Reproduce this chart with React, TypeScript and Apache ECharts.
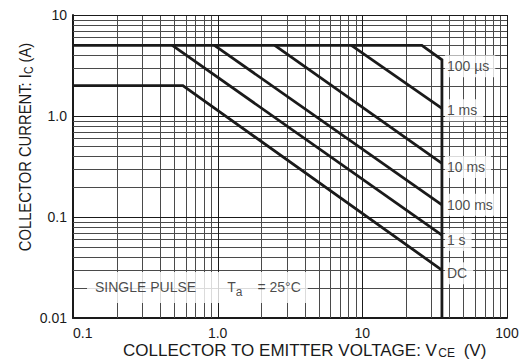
import React, { useEffect, useRef } from "react";
import * as echarts from "echarts";

// Axis ranges (log-log)
const X_MIN = 0.1;
const X_MAX = 100;
const Y_MIN = 0.01;
const Y_MAX = 10;

// Decade tick labels
const xTickText: Record<string, string> = { "0.1": "0.1", "1": "1.0", "10": "10", "100": "100" };
const yTickText: Record<string, string> = { "0.01": "0.01", "0.1": "0.1", "1": "1.0", "10": "10" };

// Grid lines (decades are drawn darker)
const xMajor = [1, 10, 100];
const xMinor = [0.2, 0.3, 0.4, 0.5, 0.6, 0.7, 0.8, 0.9, 2, 3, 4, 5, 6, 7, 8, 9, 20, 30, 40, 50, 60, 70, 80, 90];
const yMajor = [0.1, 1, 10];
const yMinor = [
  0.02, 0.03, 0.04, 0.05, 0.06, 0.07, 0.08, 0.09,
  0.2, 0.3, 0.4, 0.5, 0.6, 0.7, 0.8, 0.9,
  2, 3, 4, 5, 6, 7, 8, 9,
];

// Safe operating area boundaries: [VCE (V), IC (A)]
const envelope100us = [[0.1, 5], [25.8, 5], [35.5, 3.6], [35.5, 0.01]];
const limit1ms = [[8.4, 5], [35.5, 1.19]];
const limit10ms = [[2.48, 5], [35.5, 0.34]];
const limit100ms = [[0.95, 5], [35.5, 0.132]];
const limit1s = [[0.486, 5], [35.5, 0.066]];
const limitDC = [[0.1, 2], [0.575, 2], [35.5, 0.0298]];

// Curve tags placed right of the VCEO limit
const tagNames = ["100 µs", "1 ms", "10 ms", "100 ms", "1 s", "DC"];
const tagVce = 35.5;
const tagIc = [3.1, 1.14, 0.312, 0.132, 0.0593, 0.0277];

// Condition note anchor
const noteVce = 0.125;
const noteIc = 0.02;

const FONT = '"Liberation Sans", Arial, Helvetica, sans-serif';
const INK = "#1a1a1a";

function gridSeries(values: number[][], color: string, vertical: boolean) {
  return {
    type: "custom",
    coordinateSystem: "cartesian2d",
    silent: true,
    z: 1,
    data: values,
    encode: { x: 0, y: 1 },
    renderItem: (_params: any, api: any) => {
      const v = vertical ? api.value(0) : api.value(1);
      const a = vertical ? api.coord([v, Y_MIN]) : api.coord([X_MIN, v]);
      const b = vertical ? api.coord([v, Y_MAX]) : api.coord([X_MAX, v]);
      const x1 = vertical ? Math.round(a[0]) + 0.5 : a[0];
      const x2 = vertical ? Math.round(b[0]) + 0.5 : b[0];
      const y1 = vertical ? a[1] : Math.round(a[1]) + 0.5;
      const y2 = vertical ? b[1] : Math.round(b[1]) + 0.5;
      return {
        type: "line",
        shape: { x1, y1, x2, y2 },
        style: { stroke: color, lineWidth: 1 },
      };
    },
  };
}

function curve(data: number[][]) {
  return {
    type: "line",
    data,
    symbol: "none",
    silent: true,
    z: 3,
    lineStyle: { color: INK, width: 2.8, cap: "butt", join: "miter" },
  };
}

export default function App() {
  const ref = useRef<HTMLDivElement>(null);

  useEffect(() => {
    if (!ref.current) return;
    const chart = echarts.init(ref.current, undefined, { renderer: "svg" });

    const option: any = {
      animation: false,
      backgroundColor: "#ffffff",
      grid: { left: 73, top: 15, width: 434, height: 303, containLabel: false },
      xAxis: {
        type: "log",
        logBase: 10,
        min: X_MIN,
        max: X_MAX,
        axisLine: { show: true, onZero: false, lineStyle: { color: INK, width: 2 } },
        axisTick: { show: false },
        splitLine: { show: false },
        axisLabel: {
          margin: 8,
          color: INK,
          fontSize: 14,
          fontFamily: FONT,
          alignMinLabel: "left",
          formatter: (v: number) => xTickText[String(v)] ?? "",
        },
      },
      yAxis: {
        type: "log",
        logBase: 10,
        min: Y_MIN,
        max: Y_MAX,
        axisLine: { show: true, onZero: false, lineStyle: { color: INK, width: 2 } },
        axisTick: { show: false },
        splitLine: { show: false },
        axisLabel: {
          margin: 6,
          color: INK,
          fontSize: 14,
          fontFamily: FONT,
          formatter: (v: number) => yTickText[String(v)] ?? "",
        },
      },
      graphic: [
        {
          type: "text",
          x: 123,
          y: 350,
          silent: true,
          style: {
            text: "{a|COLLECTOR TO EMITTER VOLTAGE: V}{s|CE}{a| (V)}",
            align: "left",
            verticalAlign: "middle",
            fill: INK,
            rich: {
              a: { fontSize: 17, fontFamily: FONT, fill: INK, lineHeight: 17 },
              s: { fontSize: 12, fontFamily: FONT, fill: INK, lineHeight: 12, verticalAlign: "bottom", padding: [0, 4, 0, 1] },
            },
          },
        },
        {
          type: "text",
          x: 25,
          y: 147,
          rotation: Math.PI / 2,
          scaleX: 0.87,
          silent: true,
          style: {
            text: "{a|COLLECTOR CURRENT: I}{s|C}{a| (A)}",
            align: "center",
            verticalAlign: "middle",
            fill: INK,
            rich: {
              a: { fontSize: 17, fontFamily: FONT, fill: INK, lineHeight: 20 },
              s: { fontSize: 12, fontFamily: FONT, fill: INK, lineHeight: 12, verticalAlign: "bottom" },
            },
          },
        },
      ],
      series: [
        gridSeries(xMinor.map((v) => [v, Y_MIN]), "#4a4a4a", true),
        gridSeries(yMinor.map((v) => [X_MIN, v]), "#4a4a4a", false),
        gridSeries(xMajor.map((v) => [v, Y_MIN]), "#1a1a1a", true),
        gridSeries(yMajor.map((v) => [X_MIN, v]), "#1a1a1a", false),
        curve(envelope100us),
        curve(limit1ms),
        curve(limit10ms),
        curve(limit100ms),
        curve(limit1s),
        curve(limitDC),
        {
          type: "scatter",
          silent: true,
          z: 6,
          symbolSize: 0,
          data: tagNames.map((n, i) => ({ name: n, value: [tagVce, tagIc[i]] })),
          label: {
            show: true,
            position: "right",
            distance: 3,
            formatter: "{b}",
            color: INK,
            fontSize: 14,
            lineHeight: 16,
            fontFamily: FONT,
            backgroundColor: "#ffffff",
            padding: [3, 6, 3, 2],
          },
        },
        {
          type: "scatter",
          silent: true,
          z: 6,
          symbolSize: 0,
          data: [{ name: "note", value: [noteVce, noteIc] }],
          label: {
            show: true,
            position: "right",
            distance: 0,
            formatter: "{t|SINGLE PULSE}{g|}{t|T}{s|a}{h|}{t|= 25°C}",
            backgroundColor: "#ffffff",
            padding: [4, 7, 5, 8],
            rich: {
              t: { fontSize: 14, fontFamily: FONT, color: INK, lineHeight: 22 },
              g: { width: 31, lineHeight: 22 },
              h: { width: 15, lineHeight: 22 },
              s: { fontSize: 12, fontFamily: FONT, color: INK, lineHeight: 14, verticalAlign: "bottom" },
            },
          },
        },
      ],
    };

    chart.setOption(option);
    return () => chart.dispose();
  }, []);

  return (
    <div
      ref={ref}
      style={{ position: "fixed", left: 0, top: 0, width: 522, height: 359, background: "#fff" }}
    />
  );
}
